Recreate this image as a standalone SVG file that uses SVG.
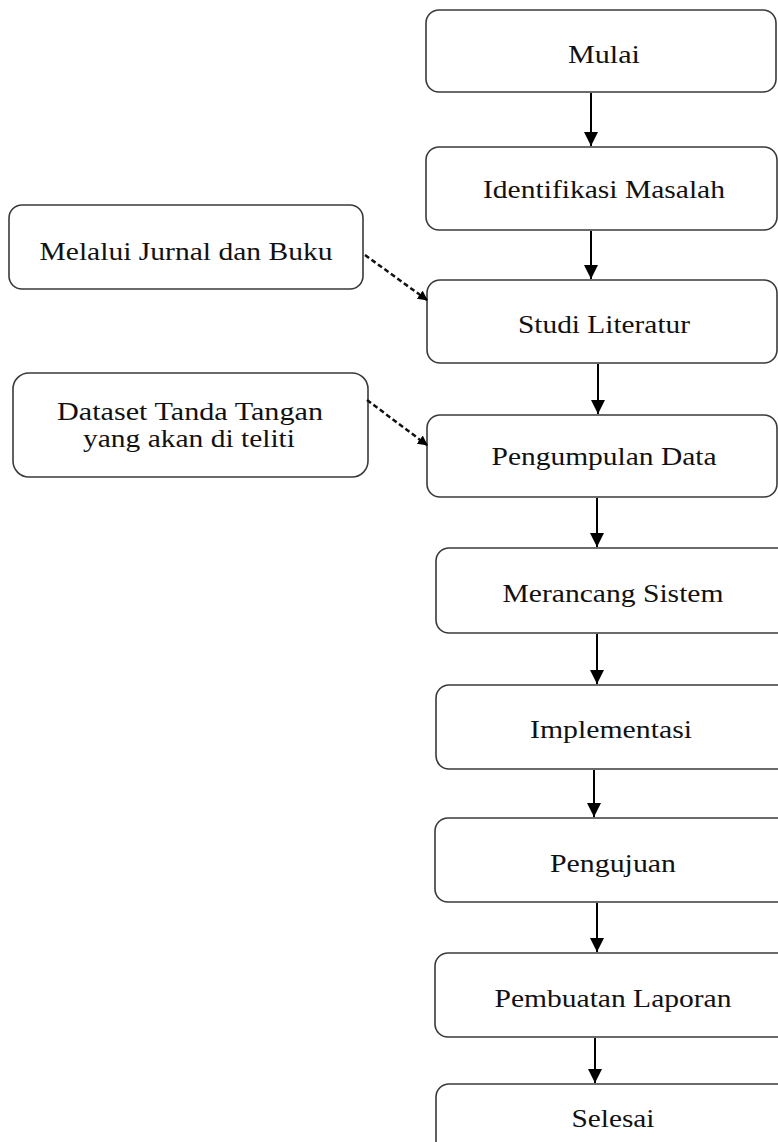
<svg xmlns="http://www.w3.org/2000/svg" width="778" height="1142" viewBox="0 0 778 1142">
<style>
.box{fill:#fff;stroke:#3a3a3a;stroke-width:1.6}
.t{font-family:"Liberation Serif","Times New Roman",serif;font-size:25px;fill:#111;text-anchor:middle}
.flow{stroke:#000;stroke-width:2;fill:none}
.dash{stroke:#111;stroke-width:2.5;fill:none;stroke-dasharray:5 3}
</style>
<defs>
<marker id="ah" markerUnits="userSpaceOnUse" markerWidth="14" markerHeight="16" refX="14" refY="7" orient="auto">
<path d="M0,0 L14,7 L0,14 Z" fill="#000"/>
</marker>
<marker id="ahs" markerUnits="userSpaceOnUse" markerWidth="10" markerHeight="10" refX="9" refY="5" orient="auto">
<path d="M0,0 L10,5 L0,10 Z" fill="#000"/>
</marker>
</defs>
<rect width="778" height="1142" fill="#fff"/>
<g id="mulai"><rect class="box" x="426" y="10" width="350" height="82" rx="13"/><text class="t" x="604" y="63" textLength="72" lengthAdjust="spacingAndGlyphs">Mulai</text></g>
<g id="identifikasi"><rect class="box" x="426" y="147" width="351" height="83" rx="13"/><text class="t" x="604" y="198" textLength="242" lengthAdjust="spacingAndGlyphs">Identifikasi Masalah</text></g>
<g id="jurnal"><rect class="box" x="9" y="205" width="354" height="84" rx="13"/><text class="t" x="186" y="260" textLength="293" lengthAdjust="spacingAndGlyphs">Melalui Jurnal dan Buku</text></g>
<g id="studi"><rect class="box" x="427" y="280" width="350" height="83" rx="13"/><text class="t" x="604" y="333" textLength="172" lengthAdjust="spacingAndGlyphs">Studi Literatur</text></g>
<g id="dataset"><rect class="box" x="13" y="373" width="355" height="104" rx="16"/><text class="t" x="190" y="420" textLength="266" lengthAdjust="spacingAndGlyphs">Dataset Tanda Tangan</text><text class="t" x="189" y="447" textLength="212" lengthAdjust="spacingAndGlyphs">yang akan di teliti</text></g>
<g id="pengumpulan"><rect class="box" x="427" y="415" width="350" height="82" rx="13"/><text class="t" x="604" y="465" textLength="225" lengthAdjust="spacingAndGlyphs">Pengumpulan Data</text></g>
<g id="merancang"><rect class="box" x="436" y="548" width="360" height="85" rx="13"/><text class="t" x="613" y="602" textLength="221" lengthAdjust="spacingAndGlyphs">Merancang Sistem</text></g>
<g id="implementasi"><rect class="box" x="436" y="685" width="360" height="84" rx="13"/><text class="t" x="611" y="738" textLength="162" lengthAdjust="spacingAndGlyphs">Implementasi</text></g>
<g id="pengujuan"><rect class="box" x="435" y="818" width="360" height="84" rx="13"/><text class="t" x="613" y="872" textLength="126" lengthAdjust="spacingAndGlyphs">Pengujuan</text></g>
<g id="laporan"><rect class="box" x="435" y="953" width="360" height="84" rx="13"/><text class="t" x="613" y="1007" textLength="237" lengthAdjust="spacingAndGlyphs">Pembuatan Laporan</text></g>
<g id="selesai"><rect class="box" x="436" y="1084" width="360" height="90" rx="13"/><text class="t" x="613" y="1127" textLength="83" lengthAdjust="spacingAndGlyphs">Selesai</text></g>
<g id="connectors">
<line class="flow" x1="591" y1="93" x2="591" y2="146" marker-end="url(#ah)"/>
<line class="flow" x1="591" y1="231" x2="591" y2="279" marker-end="url(#ah)"/>
<line class="flow" x1="598" y1="364" x2="598" y2="414" marker-end="url(#ah)"/>
<line class="flow" x1="597" y1="498" x2="597" y2="547" marker-end="url(#ah)"/>
<line class="flow" x1="597" y1="634" x2="597" y2="684" marker-end="url(#ah)"/>
<line class="flow" x1="594" y1="770" x2="594" y2="817" marker-end="url(#ah)"/>
<line class="flow" x1="597" y1="903" x2="597" y2="952" marker-end="url(#ah)"/>
<line class="flow" x1="595" y1="1038" x2="595" y2="1083" marker-end="url(#ah)"/>
<line class="dash" x1="365" y1="255" x2="427" y2="300" marker-end="url(#ahs)"/>
<line class="dash" x1="367" y1="400" x2="427" y2="445" marker-end="url(#ahs)"/>
</g>
</svg>
